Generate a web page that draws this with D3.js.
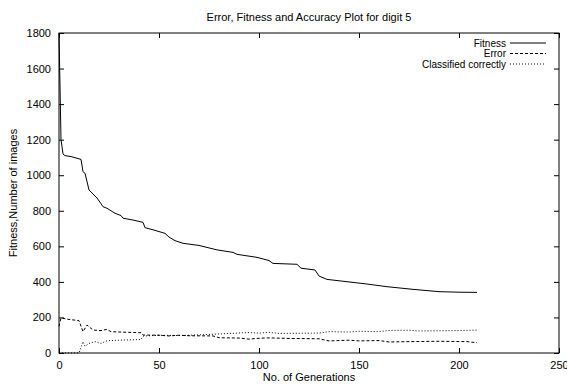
<!DOCTYPE html>
<html>
<head>
<meta charset="utf-8">
<script src="https://cdn.jsdelivr.net/npm/d3@7"></script>
<style>
  body { margin: 0; background: #fff; }
  text { font-family: "Liberation Sans", Arial, sans-serif; fill: #000; }
</style>
</head>
<body>
<div id="wrapper"></div>
<script>
// [generation, value] pairs
const fitness = [[0,1800],[1,1200],[2,1120],[3,1110],[6,1105],[11,1089],[12,1020],[13,1011],
  [15,917],[19,872],[21,840],[22,823],[24,814],[26,800],[28,786],[31,773],[32,758],[37,748],
  [42,735],[43,705],[47,693],[53,673],[55,652],[58,632],[62,617],[70,605],[79,580],[87,566],
  [89,555],[99,538],[105,520],[107,504],[119,499],[121,477],[128,467],[130,433],[134,414],
  [144,401],[154,388],[164,373],[177,358],[190,345],[200,342],[209,341]];
const error = [[0,150],[1,197],[5,189],[10,182],[12,120],[14,157],[17,129],[21,126],[24,133],
  [26,120],[30,118],[41,114],[42,101],[50,100],[55,96],[60,100],[65,97],[77,96],[80,86],
  [90,84],[95,78],[100,83],[105,85],[115,82],[130,80],[135,68],[145,72],[150,68],[160,70],
  [165,62],[175,64],[190,66],[204,64],[209,58]];
const classified = [[0,0],[10,0],[12,64],[13,38],[15,54],[18,64],[21,54],[24,69],[30,72],
  [41,76],[42,95],[50,100],[60,98],[70,102],[78,106],[85,110],[95,115],[100,112],[105,116],
  [110,110],[130,112],[135,120],[145,118],[150,122],[160,120],[165,127],[175,128],[180,124],
  [200,126],[209,129]];
const xTicks = [0, 50, 100, 150, 200, 250];
const yTicks = [0, 200, 400, 600, 800, 1000, 1200, 1400, 1600, 1800];
const seriesNames = ["Fitness", "Error", "Classified correctly"];

var margin = {top: 33, right: 8, bottom: 31, left: 59},
    width = 567 - margin.left - margin.right,
    height = 384 - margin.top - margin.bottom;

var svg = d3.select("#wrapper")
  .append("svg")
    .attr("width", 567)
    .attr("height", 384);

var g = svg.append("g")
    .attr("transform", "translate(" + margin.left + "," + margin.top + ")");

var x = d3.scaleLinear().domain([0, 250]).range([0, width]);
var y = d3.scaleLinear().domain([0, 1800]).range([height, 0]);

/* axes with inward ticks on all four sides */
function styleAxis(sel) {
  sel.select(".domain").remove();
  sel.selectAll("line").attr("stroke", "#000");
  sel.selectAll("text").style("font-size", "11px").attr("fill", "#000");
}
g.append("g")
  .attr("transform", "translate(0," + height + ")")
  .call(d3.axisBottom(x).tickValues(xTicks).tickSizeInner(-5).tickPadding(8).tickFormat(d3.format("d")))
  .call(styleAxis);
g.append("g")
  .call(d3.axisTop(x).tickValues(xTicks).tickSizeInner(-5).tickFormat(""))
  .call(styleAxis);
g.append("g")
  .call(d3.axisLeft(y).tickValues(yTicks).tickSizeInner(-5).tickPadding(8).tickFormat(d3.format("d")))
  .call(styleAxis);
g.append("g")
  .attr("transform", "translate(" + width + ",0)")
  .call(d3.axisRight(y).tickValues(yTicks).tickSizeInner(-5).tickFormat(""))
  .call(styleAxis);

g.append("rect")
  .attr("width", width).attr("height", height)
  .attr("fill", "none").attr("stroke", "#000");

var line = d3.line()
  .x(function(d) { return x(d[0]); })
  .y(function(d) { return y(d[1]); });

var dashes = [null, "3,2", "1,2"];
[fitness, error, classified].forEach(function(data, i) {
  g.append("path")
    .datum(data)
    .attr("d", line)
    .attr("fill", "none")
    .attr("stroke", "#000")
    .attr("stroke-width", 1)
    .attr("stroke-dasharray", dashes[i]);
});

/* legend */
var legend = svg.append("g");
seriesNames.forEach(function(name, i) {
  var ly = 43 + i * 10.5;
  legend.append("text")
    .attr("x", 506).attr("y", ly + 3.5)
    .attr("text-anchor", "end")
    .style("font-size", "10px")
    .text(name);
  legend.append("line")
    .attr("x1", 510).attr("x2", 546)
    .attr("y1", ly).attr("y2", ly)
    .attr("stroke", "#000")
    .attr("stroke-dasharray", dashes[i]);
});

svg.append("text")
  .attr("x", 309).attr("y", 21)
  .attr("text-anchor", "middle")
  .style("font-size", "11px")
  .text("Error, Fitness and Accuracy Plot for digit 5");

svg.append("text")
  .attr("x", 309).attr("y", 381)
  .attr("text-anchor", "middle")
  .style("font-size", "11px")
  .text("No. of Generations");

svg.append("text")
  .attr("transform", "translate(17,193)rotate(-90)")
  .attr("text-anchor", "middle")
  .style("font-size", "11px")
  .text("Fitness,Number of images");
</script>
</body>
</html>
